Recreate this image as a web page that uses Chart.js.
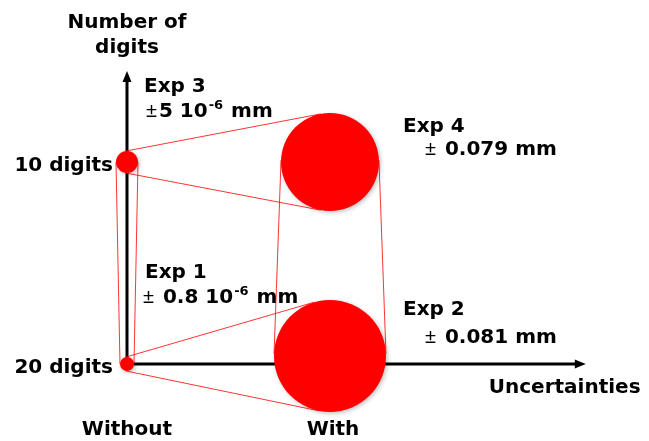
<!DOCTYPE html>
<html>
<head>
<meta charset="utf-8">
<script src="https://cdn.jsdelivr.net/npm/chart.js@4.4.0/dist/chart.umd.min.js"></script>
<style>
  html, body { margin: 0; padding: 0; background: #fff; }
  #wrap { width: 649px; height: 441px; }
</style>
</head>
<body>
<div id="wrap"><canvas id="digitsChart" width="649" height="441"></canvas></div>
<script>
// categories
const methods = ["Without", "With"];
const digitLevels = ["20 digits", "10 digits"];
const experiments = ["Exp 1", "Exp 2", "Exp 3", "Exp 4"];

// series values (x = method index, y = digit level index, bubble size in px)
const expMethod = [0, 1, 0, 1];
const expDigits = [0, 0.04, 1, 1];
const expBubble = [7, 56, 11, 49];
const expUncertainty = ["± 0.8 10^-6 mm", "± 0.081 mm", "±5 10^-6 mm", "± 0.079 mm"];

// which bubbles are joined by the thin red lines
const links = [[2, 3], [2, 0], [3, 1], [0, 1]];

const axisTitles = { x: "Uncertainties", y: ["Number of", "digits"] };
const axisEnds = { x: 2.26, y: 1.45 };

const BOLD = "bold 20px 'DejaVu Sans'";
const SUP = "bold 13px 'DejaVu Sans'";
const PM = "20px 'Liberation Sans'";

// draws "± 0.8 10^-6 mm" style strings, ± thin, rest bold, ^xx raised
function drawRich(ctx, str, x, y) {
    ctx.textAlign = "left";
    ctx.textBaseline = "alphabetic";
    let cx = x;
    if (str.startsWith("±")) {
        ctx.font = PM;
        ctx.fillText("±", cx, y);
        cx += ctx.measureText("±").width + 2;
        str = str.slice(1);
    }
    str.split(/(\^\S+)/).forEach((part) => {
        if (!part) return;
        if (part[0] === "^") {
            ctx.font = SUP;
            ctx.fillText(part.slice(1), cx + 1, y - 8);
            cx += ctx.measureText(part.slice(1)).width + 2;
        } else {
            ctx.font = BOLD;
            ctx.fillText(part, cx, y);
            cx += ctx.measureText(part).width;
        }
    });
}

// outer tangent segments between two circles
function tangents(c1, r1, c2, r2) {
    const dx = c2.x - c1.x, dy = c2.y - c1.y;
    const d = Math.hypot(dx, dy);
    const ux = dx / d, uy = dy / d;
    const k = (r1 - r2) / d;
    const h = Math.sqrt(Math.max(0, 1 - k * k));
    return [1, -1].map((s) => {
        const nx = k * ux - s * h * uy;
        const ny = k * uy + s * h * ux;
        return [c1.x + r1 * nx, c1.y + r1 * ny, c2.x + r2 * nx, c2.y + r2 * ny];
    });
}

const diagramPlugin = {
    id: "diagram",
    beforeDatasetsDraw(chart) {
        const { ctx, scales } = chart;
        const x = scales.x, y = scales.y;
        const ox = x.getPixelForValue(0), oy = y.getPixelForValue(0);
        const tx = x.getPixelForValue(axisEnds.x), ty = y.getPixelForValue(axisEnds.y);
        ctx.save();
        // axes with arrow heads
        ctx.strokeStyle = "#000";
        ctx.fillStyle = "#000";
        ctx.lineWidth = 3;
        ctx.beginPath();
        ctx.moveTo(ox, oy);
        ctx.lineTo(ox, ty + 8);
        ctx.moveTo(ox, oy);
        ctx.lineTo(tx - 8, oy);
        ctx.stroke();
        ctx.beginPath();
        ctx.moveTo(ox, ty);
        ctx.lineTo(ox - 4.5, ty + 11);
        ctx.lineTo(ox + 4.5, ty + 11);
        ctx.closePath();
        ctx.fill();
        ctx.beginPath();
        ctx.moveTo(tx, oy);
        ctx.lineTo(tx - 11, oy - 4.5);
        ctx.lineTo(tx - 11, oy + 4.5);
        ctx.closePath();
        ctx.fill();

        // thin red connectors
        const pts = chart.getDatasetMeta(0).data;
        ctx.strokeStyle = "rgba(255,0,0,0.8)";
        ctx.lineWidth = 1;
        links.forEach(([a, b]) => {
            const pa = pts[a], pb = pts[b];
            tangents(pa, pa.options.radius, pb, pb.options.radius).forEach((t) => {
                ctx.beginPath();
                ctx.moveTo(t[0], t[1]);
                ctx.lineTo(t[2], t[3]);
                ctx.stroke();
            });
        });
        ctx.restore();

        // soft shadow under the bubbles
        ctx.save();
        ctx.shadowColor = "rgba(0,0,0,0.25)";
        ctx.shadowBlur = 4;
        ctx.shadowOffsetX = 1.5;
        ctx.shadowOffsetY = 1.5;
    },
    afterDatasetsDraw(chart) {
        chart.ctx.restore();
    },
    afterDraw(chart) {
        const { ctx, scales } = chart;
        const x = scales.x, y = scales.y;
        const ox = x.getPixelForValue(0), oy = y.getPixelForValue(0);
        const tx = x.getPixelForValue(axisEnds.x), ty = y.getPixelForValue(axisEnds.y);
        const pts = chart.getDatasetMeta(0).data;
        ctx.save();
        ctx.fillStyle = "#000";
        ctx.font = BOLD;
        ctx.textBaseline = "alphabetic";

        // axis titles
        ctx.textAlign = "center";
        ctx.fillText(axisTitles.y[0], ox, ty - 43);
        ctx.fillText(axisTitles.y[1], ox, ty - 18);
        ctx.textAlign = "left";
        ctx.fillText(axisTitles.x, tx - 97, oy + 29);

        // category labels
        ctx.textAlign = "center";
        methods.forEach((m, i) => ctx.fillText(m, x.getPixelForValue(i) + (i ? 3 : 0), oy + 71));
        ctx.textAlign = "right";
        digitLevels.forEach((d, i) => ctx.fillText(d, ox - 14, y.getPixelForValue(i) + 9));

        // experiment labels: [dx title, dy title, dx value, dy value]
        const place = [[18, -86, 16, -61], [73, -41, 95, -13], [17, -70, 19, -45], [73, -30, 95, -7]];
        experiments.forEach((e, i) => {
            const p = pts[i], o = place[i];
            ctx.font = BOLD;
            ctx.textAlign = "left";
            ctx.fillText(e, p.x + o[0], p.y + o[1]);
            drawRich(ctx, expUncertainty[i], p.x + o[2], p.y + o[3]);
        });
        ctx.restore();
    },
};

new Chart(document.getElementById("digitsChart"), {
    type: "bubble",
    data: {
        datasets: [
            {
                data: experiments.map((e, i) => ({ x: expMethod[i], y: expDigits[i], r: expBubble[i] })),
                backgroundColor: "#ff0000",
                borderWidth: 0,
                hoverRadius: 0,
            },
        ],
    },
    options: {
        responsive: false,
        animation: false,
        layout: { padding: 0, autoPadding: false },
        scales: {
            x: { type: "linear", min: -0.6256, max: 2.5714, display: false },
            y: { type: "linear", min: -0.381, max: 1.802, display: false },
        },
        plugins: {
            legend: { display: false },
            tooltip: { enabled: false },
        },
    },
    plugins: [diagramPlugin],
});
</script>
</body>
</html>
